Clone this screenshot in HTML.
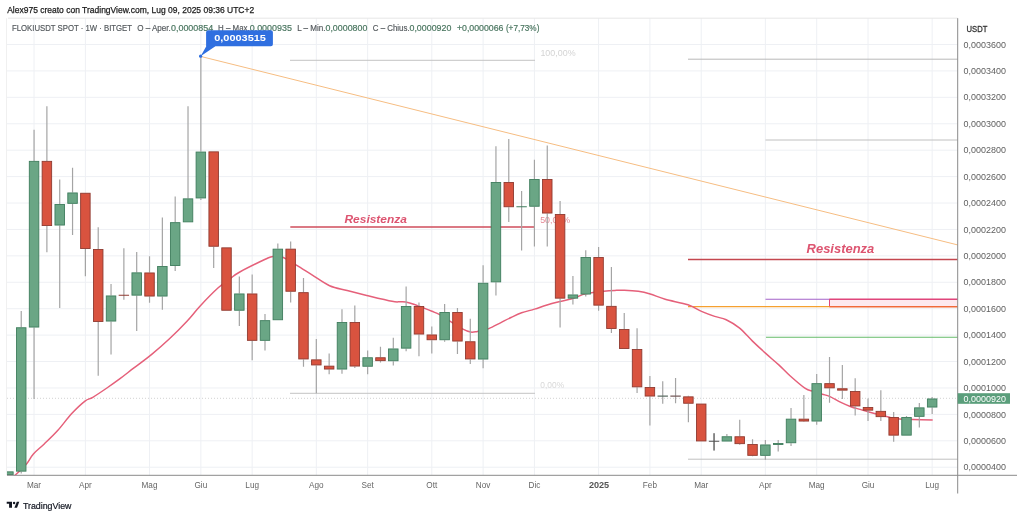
<!DOCTYPE html><html><head><meta charset="utf-8"><title>FLOKIUSDT</title><style>html,body{margin:0;padding:0;background:#fff;width:1024px;height:517px;overflow:hidden}svg{display:block}text{font-family:"Liberation Sans", "DejaVu Sans", sans-serif}</style></head><body>
<svg width="1024" height="517" viewBox="0 0 1024 517">
<rect width="1024" height="517" fill="#fff"/>
<defs><clipPath id="cp"><rect x="7.0" y="18.2" width="950.7" height="457.1"/></clipPath></defs>
<path d="M7.0 44.50H957.7M7.0 70.92H957.7M7.0 97.34H957.7M7.0 123.76H957.7M7.0 150.18H957.7M7.0 176.60H957.7M7.0 203.02H957.7M7.0 229.44H957.7M7.0 255.86H957.7M7.0 282.28H957.7M7.0 308.70H957.7M7.0 335.12H957.7M7.0 361.54H957.7M7.0 387.96H957.7M7.0 414.38H957.7M7.0 440.80H957.7M7.0 467.22H957.7M34.06 18.2V475.3M85.38 18.2V475.3M149.53 18.2V475.3M200.85 18.2V475.3M252.17 18.2V475.3M316.32 18.2V475.3M367.64 18.2V475.3M431.79 18.2V475.3M483.11 18.2V475.3M534.43 18.2V475.3M598.58 18.2V475.3M649.90 18.2V475.3M701.22 18.2V475.3M765.37 18.2V475.3M816.69 18.2V475.3M868.01 18.2V475.3M932.16 18.2V475.3" stroke="#eef0f4" stroke-width="1" fill="none"/>
<g clip-path="url(#cp)">
<path d="M290 60.3H535" stroke="#c4c4c4" stroke-width="1"/>
<path d="M290 393.3H535" stroke="#c4c4c4" stroke-width="1"/>
<path d="M688 59.2H958" stroke="#b8b8b8" stroke-width="1"/>
<path d="M765.5 140H958" stroke="#c0c0c0" stroke-width="1"/>
<path d="M688 459.2H958" stroke="#c0c0c0" stroke-width="1"/>
<path d="M7.0 398.3H957.7" stroke="#c6c6c6" stroke-width="0.8" stroke-dasharray="1 2"/>
<path d="M201 56.5L958 245.0" stroke="#f6bd82" stroke-width="1" fill="none"/>
<path d="M290.3 227H535" stroke="#cf4d5b" stroke-width="1.4"/>
<path d="M688 259.4H958" stroke="#c4474f" stroke-width="1.5"/>
<rect x="829.5" y="299.2" width="130" height="7.6" fill="#fde9ef" stroke="none"/>
<path d="M765.5 299.3H830" stroke="#a362c9" stroke-width="1.1"/>
<path d="M829.5 299.2H958" stroke="#e0457b" stroke-width="1.5"/>
<path d="M829.5 299.2V306.8" stroke="#e0457b" stroke-width="1"/>
<path d="M688 306.6H830" stroke="#f5a030" stroke-width="1.4"/>
<path d="M829.5 306.8H958" stroke="#f06a3a" stroke-width="1.5"/>
<path d="M766 337.2H958" stroke="#66bb6a" stroke-width="1.1"/>
<text x="540.4" y="55.8" font-size="8.6" fill="#d4d4d4" textLength="35.2" lengthAdjust="spacingAndGlyphs">100,00%</text>
<text x="540.2" y="222.6" font-size="8.6" fill="#e58a96" textLength="30.0" lengthAdjust="spacingAndGlyphs">50,00%</text>
<text x="540.3" y="388.0" font-size="8.6" fill="#d8d8d8" textLength="23.8" lengthAdjust="spacingAndGlyphs">0,00%</text>
<path d="M13.90 475.50C14.18 475.38 13.47 476.77 15.60 474.80C17.73 472.83 23.73 467.18 26.70 463.70C29.67 460.22 30.43 457.23 33.40 453.90C36.37 450.57 40.42 447.63 44.50 443.70C48.58 439.77 53.40 435.28 57.90 430.30C62.40 425.32 66.98 418.67 71.50 413.80C76.02 408.93 81.45 403.85 85.00 401.10C88.55 398.35 89.15 399.48 92.80 397.30C96.45 395.12 102.37 391.10 106.90 388.00C111.43 384.90 115.55 382.00 120.00 378.70C124.45 375.40 128.37 372.22 133.60 368.20C138.83 364.18 145.47 359.47 151.40 354.60C157.33 349.73 163.27 344.57 169.20 339.00C175.13 333.43 181.80 326.75 187.00 321.20C192.20 315.65 195.20 311.27 200.40 305.70C205.60 300.13 213.27 292.28 218.20 287.80C223.13 283.32 226.40 281.43 230.00 278.80C233.60 276.17 233.93 275.25 239.80 272.00C245.67 268.75 259.67 261.90 265.20 259.30C270.73 256.70 270.08 256.73 273.00 256.40C275.92 256.07 278.80 255.83 282.70 257.30C286.60 258.77 291.52 262.27 296.40 265.20C301.28 268.13 306.47 271.48 312.00 274.90C317.53 278.32 323.73 283.10 329.60 285.70C335.47 288.30 341.02 288.88 347.20 290.50C353.38 292.12 359.22 293.60 366.70 295.40C374.18 297.20 386.55 300.23 392.10 301.30C397.65 302.37 397.72 301.67 400.00 301.80C402.28 301.93 403.38 301.65 405.80 302.10C408.22 302.55 411.35 303.45 414.50 304.50C417.65 305.55 421.80 307.27 424.70 308.40C427.60 309.53 429.40 310.25 431.90 311.30C434.40 312.35 436.63 313.02 439.70 314.70C442.77 316.38 446.60 319.07 450.30 321.40C454.00 323.73 458.52 326.92 461.90 328.70C465.28 330.48 468.02 331.65 470.60 332.10C473.18 332.55 474.37 331.98 477.40 331.40C480.43 330.82 484.95 330.03 488.80 328.60C492.65 327.17 496.80 324.65 500.50 322.80C504.20 320.95 507.48 319.17 511.00 317.50C514.52 315.83 517.68 314.20 521.60 312.80C525.52 311.40 530.40 310.37 534.50 309.10C538.60 307.83 542.30 306.38 546.20 305.20C550.10 304.02 553.60 303.07 557.90 302.00C562.20 300.93 567.90 300.03 572.00 298.80C576.10 297.57 579.50 295.58 582.50 294.60C585.50 293.62 586.45 293.47 590.00 292.90C593.55 292.33 599.63 291.62 603.80 291.20C607.97 290.78 611.57 290.57 615.00 290.40C618.43 290.23 620.52 290.05 624.40 290.20C628.28 290.35 634.00 290.67 638.30 291.30C642.60 291.93 645.72 292.67 650.20 294.00C654.68 295.33 658.90 297.50 665.20 299.30C671.50 301.10 681.95 302.78 688.00 304.80C694.05 306.82 697.05 309.47 701.50 311.40C705.95 313.33 710.58 315.02 714.70 316.40C718.82 317.78 722.10 317.78 726.20 319.70C730.30 321.62 734.92 324.33 739.30 327.90C743.68 331.47 748.10 336.85 752.50 341.10C756.90 345.35 761.32 349.43 765.70 353.40C770.08 357.37 774.75 361.17 778.80 364.90C782.85 368.63 785.65 371.92 790.00 375.80C794.35 379.68 801.03 385.58 804.90 388.20C808.77 390.82 810.30 390.50 813.20 391.50C816.10 392.50 819.50 393.35 822.30 394.20C825.10 395.05 826.90 395.23 830.00 396.60C833.10 397.97 837.42 400.72 840.90 402.40C844.38 404.08 847.68 405.53 850.90 406.70C854.12 407.87 857.35 408.57 860.20 409.40C863.05 410.23 864.77 410.80 868.00 411.70C871.23 412.60 876.00 413.87 879.60 414.80C883.20 415.73 886.28 416.62 889.60 417.30C892.92 417.98 895.63 418.55 899.50 418.90C903.37 419.25 907.27 419.20 912.80 419.40C918.33 419.60 929.38 419.98 932.70 420.10" fill="none" stroke="#e5607a" stroke-width="1.5" stroke-linejoin="round"/>
<path d="M21.23 311.00V327.30M21.23 471.60V473.50M34.06 129.80V160.90M34.06 327.50V399.00M46.89 106.20V160.90M46.89 226.00V252.30M59.72 179.50V204.00M59.72 225.50V307.90M72.55 167.80V192.50M72.55 203.80V235.00M85.38 249.00V276.20M98.21 227.30V249.00M98.21 321.90V375.70M111.04 283.90V295.50M111.04 321.50V354.40M123.87 248.20V295.30M123.87 295.30V299.70M136.70 252.00V272.40M136.70 295.60V331.00M149.53 256.20V272.50M149.53 296.50V302.70M162.36 217.50V266.00M162.36 296.50V309.70M175.19 196.50V222.20M175.19 266.00V270.90M188.02 106.20V198.40M200.85 56.50V151.60M200.85 198.40V200.00M213.68 246.70V267.90M239.34 276.40V293.50M239.34 310.70V326.00M252.17 274.50V293.50M252.17 340.80V360.20M265.00 314.00V320.20M265.00 340.80V350.50M277.83 243.40V248.70M290.66 241.50V248.70M290.66 291.70V302.60M303.49 278.00V292.20M303.49 359.40V366.70M316.32 339.10V359.40M316.32 365.40V393.30M329.15 353.50V365.70M329.15 369.50V374.30M341.98 309.20V322.10M341.98 369.50V373.80M354.81 305.50V322.10M354.81 366.50V368.00M367.64 350.50V357.30M367.64 366.70V374.30M380.47 346.70V357.30M380.47 361.10V362.40M393.30 337.80V348.50M393.30 361.20V365.40M406.13 286.40V306.10M406.13 348.60V351.30M418.96 302.40V306.10M418.96 334.50V356.20M431.79 326.40V334.50M431.79 340.20V353.50M444.62 303.90V312.00M444.62 340.20V341.80M457.45 308.00V312.00M457.45 341.50V354.00M470.28 318.80V341.30M470.28 359.40V364.00M483.11 265.20V282.80M483.11 359.50V368.20M495.94 146.30V182.00M495.94 282.30V295.60M508.77 138.90V182.00M508.77 207.20V222.10M521.60 191.00V206.70M521.60 206.70V250.40M534.43 159.80V179.00M534.43 206.70V246.40M547.26 145.40V179.00M547.26 213.50V246.40M560.09 201.00V214.00M560.09 298.60V327.60M572.92 276.00V294.50M572.92 298.60V304.50M585.75 250.30V257.10M585.75 294.50V296.40M598.58 247.00V257.10M598.58 305.60V310.80M611.41 267.10V305.90M611.41 328.90V333.00M624.24 313.00V329.10M637.07 328.30V349.00M637.07 387.30V392.90M649.90 375.90V387.10M649.90 396.50V425.50M662.73 381.30V396.10M662.73 396.10V403.80M675.56 378.00V396.10M675.56 396.10V403.30M688.39 395.80V396.40M688.39 403.70V422.30M714.05 433.30V441.30M714.05 441.30V450.50M726.88 434.00V436.30M739.71 419.70V436.30M739.71 444.10V444.80M752.54 439.20V444.10M752.54 455.80V456.30M765.37 440.10V444.50M765.37 455.80V459.80M778.20 440.10V443.10M778.20 444.50V451.40M791.03 408.00V418.70M791.03 443.20V445.90M803.86 394.90V418.70M803.86 421.50V421.90M816.69 374.00V383.20M816.69 421.50V424.70M829.52 357.00V383.20M829.52 388.30V402.80M842.35 364.90V388.30M842.35 390.60V399.10M855.18 378.30V391.10M855.18 406.40V415.50M868.01 398.50V407.00M868.01 410.60V420.90M880.84 390.20V410.90M880.84 417.10V421.00M893.67 412.10V417.10M893.67 435.60V441.80M906.50 415.90V417.10M919.33 402.90V407.40M919.33 416.80V427.60M932.16 397.00V398.50M932.16 407.50V414.00" stroke="#a4a4a4" stroke-width="1.2" fill="none"/>
<rect x="3.65" y="471.85" width="9.50" height="2.70" fill="#6aa685" stroke="#3f7d5d" stroke-width="0.9"/>
<rect x="16.48" y="327.75" width="9.50" height="143.40" fill="#6aa685" stroke="#3f7d5d" stroke-width="0.9"/>
<rect x="29.31" y="161.35" width="9.50" height="165.70" fill="#6aa685" stroke="#3f7d5d" stroke-width="0.9"/>
<rect x="42.14" y="161.35" width="9.50" height="64.20" fill="#d9533f" stroke="#8f3a30" stroke-width="0.9"/>
<rect x="54.97" y="204.45" width="9.50" height="20.60" fill="#6aa685" stroke="#3f7d5d" stroke-width="0.9"/>
<rect x="67.80" y="192.95" width="9.50" height="10.40" fill="#6aa685" stroke="#3f7d5d" stroke-width="0.9"/>
<rect x="80.63" y="193.25" width="9.50" height="55.30" fill="#d9533f" stroke="#8f3a30" stroke-width="0.9"/>
<rect x="93.46" y="249.45" width="9.50" height="72.00" fill="#d9533f" stroke="#8f3a30" stroke-width="0.9"/>
<rect x="106.29" y="295.95" width="9.50" height="25.10" fill="#6aa685" stroke="#3f7d5d" stroke-width="0.9"/>
<path d="M118.67 295.30H129.07" stroke="#8f3a30" stroke-width="1.1" fill="none"/>
<rect x="131.95" y="272.85" width="9.50" height="22.30" fill="#6aa685" stroke="#3f7d5d" stroke-width="0.9"/>
<rect x="144.78" y="272.95" width="9.50" height="23.10" fill="#d9533f" stroke="#8f3a30" stroke-width="0.9"/>
<rect x="157.61" y="266.45" width="9.50" height="29.60" fill="#6aa685" stroke="#3f7d5d" stroke-width="0.9"/>
<rect x="170.44" y="222.65" width="9.50" height="42.90" fill="#6aa685" stroke="#3f7d5d" stroke-width="0.9"/>
<rect x="183.27" y="198.85" width="9.50" height="23.00" fill="#6aa685" stroke="#3f7d5d" stroke-width="0.9"/>
<rect x="196.10" y="152.05" width="9.50" height="45.90" fill="#6aa685" stroke="#3f7d5d" stroke-width="0.9"/>
<rect x="208.93" y="151.85" width="9.50" height="94.40" fill="#d9533f" stroke="#8f3a30" stroke-width="0.9"/>
<rect x="221.76" y="247.85" width="9.50" height="62.40" fill="#d9533f" stroke="#8f3a30" stroke-width="0.9"/>
<rect x="234.59" y="293.95" width="9.50" height="16.30" fill="#6aa685" stroke="#3f7d5d" stroke-width="0.9"/>
<rect x="247.42" y="293.95" width="9.50" height="46.40" fill="#d9533f" stroke="#8f3a30" stroke-width="0.9"/>
<rect x="260.25" y="320.65" width="9.50" height="19.70" fill="#6aa685" stroke="#3f7d5d" stroke-width="0.9"/>
<rect x="273.08" y="249.15" width="9.50" height="70.60" fill="#6aa685" stroke="#3f7d5d" stroke-width="0.9"/>
<rect x="285.91" y="249.15" width="9.50" height="42.10" fill="#d9533f" stroke="#8f3a30" stroke-width="0.9"/>
<rect x="298.74" y="292.65" width="9.50" height="66.30" fill="#d9533f" stroke="#8f3a30" stroke-width="0.9"/>
<rect x="311.57" y="359.85" width="9.50" height="5.10" fill="#d9533f" stroke="#8f3a30" stroke-width="0.9"/>
<rect x="324.40" y="366.15" width="9.50" height="2.90" fill="#d9533f" stroke="#8f3a30" stroke-width="0.9"/>
<rect x="337.23" y="322.55" width="9.50" height="46.50" fill="#6aa685" stroke="#3f7d5d" stroke-width="0.9"/>
<rect x="350.06" y="322.55" width="9.50" height="43.50" fill="#d9533f" stroke="#8f3a30" stroke-width="0.9"/>
<rect x="362.89" y="357.75" width="9.50" height="8.50" fill="#6aa685" stroke="#3f7d5d" stroke-width="0.9"/>
<rect x="375.72" y="357.75" width="9.50" height="2.90" fill="#d9533f" stroke="#8f3a30" stroke-width="0.9"/>
<rect x="388.55" y="348.95" width="9.50" height="11.80" fill="#6aa685" stroke="#3f7d5d" stroke-width="0.9"/>
<rect x="401.38" y="306.55" width="9.50" height="41.60" fill="#6aa685" stroke="#3f7d5d" stroke-width="0.9"/>
<rect x="414.21" y="306.55" width="9.50" height="27.50" fill="#d9533f" stroke="#8f3a30" stroke-width="0.9"/>
<rect x="427.04" y="334.95" width="9.50" height="4.80" fill="#d9533f" stroke="#8f3a30" stroke-width="0.9"/>
<rect x="439.87" y="312.45" width="9.50" height="27.30" fill="#6aa685" stroke="#3f7d5d" stroke-width="0.9"/>
<rect x="452.70" y="312.45" width="9.50" height="28.60" fill="#d9533f" stroke="#8f3a30" stroke-width="0.9"/>
<rect x="465.53" y="341.75" width="9.50" height="17.20" fill="#d9533f" stroke="#8f3a30" stroke-width="0.9"/>
<rect x="478.36" y="283.25" width="9.50" height="75.80" fill="#6aa685" stroke="#3f7d5d" stroke-width="0.9"/>
<rect x="491.19" y="182.45" width="9.50" height="99.40" fill="#6aa685" stroke="#3f7d5d" stroke-width="0.9"/>
<rect x="504.02" y="182.45" width="9.50" height="24.30" fill="#d9533f" stroke="#8f3a30" stroke-width="0.9"/>
<path d="M516.40 206.70H526.80" stroke="#3f7d5d" stroke-width="1.1" fill="none"/>
<rect x="529.68" y="179.45" width="9.50" height="26.80" fill="#6aa685" stroke="#3f7d5d" stroke-width="0.9"/>
<rect x="542.51" y="179.45" width="9.50" height="33.60" fill="#d9533f" stroke="#8f3a30" stroke-width="0.9"/>
<rect x="555.34" y="214.45" width="9.50" height="83.70" fill="#d9533f" stroke="#8f3a30" stroke-width="0.9"/>
<rect x="568.17" y="294.95" width="9.50" height="3.20" fill="#6aa685" stroke="#3f7d5d" stroke-width="0.9"/>
<rect x="581.00" y="257.55" width="9.50" height="36.50" fill="#6aa685" stroke="#3f7d5d" stroke-width="0.9"/>
<rect x="593.83" y="257.55" width="9.50" height="47.60" fill="#d9533f" stroke="#8f3a30" stroke-width="0.9"/>
<rect x="606.66" y="306.35" width="9.50" height="22.10" fill="#d9533f" stroke="#8f3a30" stroke-width="0.9"/>
<rect x="619.49" y="329.55" width="9.50" height="19.00" fill="#d9533f" stroke="#8f3a30" stroke-width="0.9"/>
<rect x="632.32" y="349.45" width="9.50" height="37.40" fill="#d9533f" stroke="#8f3a30" stroke-width="0.9"/>
<rect x="645.15" y="387.55" width="9.50" height="8.50" fill="#d9533f" stroke="#8f3a30" stroke-width="0.9"/>
<path d="M657.53 396.10H667.93" stroke="#5d6e64" stroke-width="1.1" fill="none"/>
<path d="M670.36 396.10H680.76" stroke="#745a58" stroke-width="1.1" fill="none"/>
<rect x="683.64" y="396.85" width="9.50" height="6.40" fill="#d9533f" stroke="#8f3a30" stroke-width="0.9"/>
<rect x="696.47" y="404.05" width="9.50" height="36.90" fill="#d9533f" stroke="#8f3a30" stroke-width="0.9"/>
<path d="M714.05 433.30V450.50" stroke="#5a5a5a" stroke-width="1.1" fill="none"/>
<path d="M708.85 441.30H719.25" stroke="#505050" stroke-width="1.1" fill="none"/>
<rect x="722.13" y="436.75" width="9.50" height="4.30" fill="#6aa685" stroke="#3f7d5d" stroke-width="0.9"/>
<rect x="734.96" y="436.75" width="9.50" height="6.90" fill="#d9533f" stroke="#8f3a30" stroke-width="0.9"/>
<rect x="747.79" y="444.55" width="9.50" height="10.80" fill="#d9533f" stroke="#8f3a30" stroke-width="0.9"/>
<rect x="760.62" y="444.95" width="9.50" height="10.40" fill="#6aa685" stroke="#3f7d5d" stroke-width="0.9"/>
<rect x="773.45" y="443.55" width="9.50" height="0.90" fill="#6aa685" stroke="#3f7d5d" stroke-width="0.9"/>
<rect x="786.28" y="419.15" width="9.50" height="23.60" fill="#6aa685" stroke="#3f7d5d" stroke-width="0.9"/>
<rect x="799.11" y="419.15" width="9.50" height="1.90" fill="#d9533f" stroke="#8f3a30" stroke-width="0.9"/>
<rect x="811.94" y="383.65" width="9.50" height="37.40" fill="#6aa685" stroke="#3f7d5d" stroke-width="0.9"/>
<rect x="824.77" y="383.65" width="9.50" height="4.20" fill="#d9533f" stroke="#8f3a30" stroke-width="0.9"/>
<rect x="837.60" y="388.75" width="9.50" height="1.40" fill="#d9533f" stroke="#8f3a30" stroke-width="0.9"/>
<rect x="850.43" y="391.55" width="9.50" height="14.40" fill="#d9533f" stroke="#8f3a30" stroke-width="0.9"/>
<rect x="863.26" y="407.45" width="9.50" height="2.70" fill="#d9533f" stroke="#8f3a30" stroke-width="0.9"/>
<rect x="876.09" y="411.35" width="9.50" height="5.30" fill="#d9533f" stroke="#8f3a30" stroke-width="0.9"/>
<rect x="888.92" y="417.55" width="9.50" height="17.60" fill="#d9533f" stroke="#8f3a30" stroke-width="0.9"/>
<rect x="901.75" y="417.55" width="9.50" height="17.60" fill="#6aa685" stroke="#3f7d5d" stroke-width="0.9"/>
<rect x="914.58" y="407.85" width="9.50" height="8.50" fill="#6aa685" stroke="#3f7d5d" stroke-width="0.9"/>
<rect x="927.41" y="398.95" width="9.50" height="8.10" fill="#6aa685" stroke="#3f7d5d" stroke-width="0.9"/>
</g>
<path d="M8 18.2H957.7" stroke="#e6e6e6" stroke-width="1"/>
<path d="M6.5 18.2V475.3" stroke="#f0f0f0" stroke-width="1"/>
<path d="M957.7 18.2V493.5" stroke="#8a8a8a" stroke-width="1"/>
<path d="M7.0 475.3H1017" stroke="#8a8a8a" stroke-width="1"/>
<text x="7.2" y="13.35" font-size="9.3" fill="#1a1a1a" stroke="#1a1a1a" stroke-width="0.25" textLength="247" lengthAdjust="spacingAndGlyphs">Alex975 creato con TradingView.com, Lug 09, 2025 09:36 UTC+2</text>
<text x="12.0" y="31.0" font-size="8.6" fill="#555a5e" stroke="#555a5e" stroke-width="0.18" textLength="120.0" lengthAdjust="spacingAndGlyphs">FLOKIUSDT SPOT · 1W · BITGET</text>
<text x="137.2" y="31.0" font-size="8.6" fill="#555a5e" stroke="#555a5e" stroke-width="0.18" textLength="33.6" lengthAdjust="spacingAndGlyphs">O – Aper.</text>
<text x="171.0" y="31.0" font-size="8.6" fill="#4a7660" stroke="#4a7660" stroke-width="0.18" textLength="42.2" lengthAdjust="spacingAndGlyphs">0,0000854</text>
<text x="218.1" y="31.0" font-size="8.6" fill="#555a5e" stroke="#555a5e" stroke-width="0.18" textLength="31.6" lengthAdjust="spacingAndGlyphs">H – Max.</text>
<text x="249.7" y="31.0" font-size="8.6" fill="#4a7660" stroke="#4a7660" stroke-width="0.18" textLength="42.2" lengthAdjust="spacingAndGlyphs">0,0000935</text>
<text x="297.2" y="31.0" font-size="8.6" fill="#555a5e" stroke="#555a5e" stroke-width="0.18" textLength="28.4" lengthAdjust="spacingAndGlyphs">L – Min.</text>
<text x="325.5" y="31.0" font-size="8.6" fill="#4a7660" stroke="#4a7660" stroke-width="0.18" textLength="41.8" lengthAdjust="spacingAndGlyphs">0,0000800</text>
<text x="372.8" y="31.0" font-size="8.6" fill="#555a5e" stroke="#555a5e" stroke-width="0.18" textLength="36.8" lengthAdjust="spacingAndGlyphs">C – Chius.</text>
<text x="409.5" y="31.0" font-size="8.6" fill="#4a7660" stroke="#4a7660" stroke-width="0.18" textLength="41.8" lengthAdjust="spacingAndGlyphs">0,0000920</text>
<text x="456.9" y="31.0" font-size="8.6" fill="#4a7660" stroke="#4a7660" stroke-width="0.18" textLength="46.6" lengthAdjust="spacingAndGlyphs">+0,0000066</text>
<text x="505.9" y="31.0" font-size="8.6" fill="#4a7660" stroke="#4a7660" stroke-width="0.18" textLength="33.5" lengthAdjust="spacingAndGlyphs">(+7,73%)</text>
<text x="966.6" y="31.8" font-size="8.6" fill="#333" stroke="#333" stroke-width="0.3" textLength="20.7" lengthAdjust="spacingAndGlyphs">USDT</text>
<text x="963.6" y="47.6" font-size="9.4" fill="#606060" textLength="42.3" lengthAdjust="spacingAndGlyphs">0,0003600</text>
<text x="963.6" y="74.0" font-size="9.4" fill="#606060" textLength="42.3" lengthAdjust="spacingAndGlyphs">0,0003400</text>
<text x="963.6" y="100.4" font-size="9.4" fill="#606060" textLength="42.3" lengthAdjust="spacingAndGlyphs">0,0003200</text>
<text x="963.6" y="126.9" font-size="9.4" fill="#606060" textLength="42.3" lengthAdjust="spacingAndGlyphs">0,0003000</text>
<text x="963.6" y="153.3" font-size="9.4" fill="#606060" textLength="42.3" lengthAdjust="spacingAndGlyphs">0,0002800</text>
<text x="963.6" y="179.7" font-size="9.4" fill="#606060" textLength="42.3" lengthAdjust="spacingAndGlyphs">0,0002600</text>
<text x="963.6" y="206.1" font-size="9.4" fill="#606060" textLength="42.3" lengthAdjust="spacingAndGlyphs">0,0002400</text>
<text x="963.6" y="232.5" font-size="9.4" fill="#606060" textLength="42.3" lengthAdjust="spacingAndGlyphs">0,0002200</text>
<text x="963.6" y="259.0" font-size="9.4" fill="#606060" textLength="42.3" lengthAdjust="spacingAndGlyphs">0,0002000</text>
<text x="963.6" y="285.4" font-size="9.4" fill="#606060" textLength="42.3" lengthAdjust="spacingAndGlyphs">0,0001800</text>
<text x="963.6" y="311.8" font-size="9.4" fill="#606060" textLength="42.3" lengthAdjust="spacingAndGlyphs">0,0001600</text>
<text x="963.6" y="338.2" font-size="9.4" fill="#606060" textLength="42.3" lengthAdjust="spacingAndGlyphs">0,0001400</text>
<text x="963.6" y="364.6" font-size="9.4" fill="#606060" textLength="42.3" lengthAdjust="spacingAndGlyphs">0,0001200</text>
<text x="963.6" y="391.1" font-size="9.4" fill="#606060" textLength="42.3" lengthAdjust="spacingAndGlyphs">0,0001000</text>
<text x="963.6" y="417.5" font-size="9.4" fill="#606060" textLength="42.3" lengthAdjust="spacingAndGlyphs">0,0000800</text>
<text x="963.6" y="443.9" font-size="9.4" fill="#606060" textLength="42.3" lengthAdjust="spacingAndGlyphs">0,0000600</text>
<text x="963.6" y="470.3" font-size="9.4" fill="#606060" textLength="42.3" lengthAdjust="spacingAndGlyphs">0,0000400</text>
<rect x="957.7" y="393.2" width="52.3" height="10.6" fill="#5a9e7b"/>
<text x="963.6" y="401.9" font-size="9.4" fill="#fff" textLength="42.3" lengthAdjust="spacingAndGlyphs">0,0000920</text>
<text x="34.06" y="487.7" font-size="8.2" fill="#666" text-anchor="middle">Mar</text>
<text x="85.38" y="487.7" font-size="8.2" fill="#666" text-anchor="middle">Apr</text>
<text x="149.53" y="487.7" font-size="8.2" fill="#666" text-anchor="middle">Mag</text>
<text x="200.85" y="487.7" font-size="8.2" fill="#666" text-anchor="middle">Giu</text>
<text x="252.17" y="487.7" font-size="8.2" fill="#666" text-anchor="middle">Lug</text>
<text x="316.32" y="487.7" font-size="8.2" fill="#666" text-anchor="middle">Ago</text>
<text x="367.64" y="487.7" font-size="8.2" fill="#666" text-anchor="middle">Set</text>
<text x="431.79" y="487.7" font-size="8.2" fill="#666" text-anchor="middle">Ott</text>
<text x="483.11" y="487.7" font-size="8.2" fill="#666" text-anchor="middle">Nov</text>
<text x="534.43" y="487.7" font-size="8.2" fill="#666" text-anchor="middle">Dic</text>
<text x="588.9" y="487.8" font-size="8.6" font-weight="bold" fill="#555" textLength="20.3" lengthAdjust="spacingAndGlyphs">2025</text>
<text x="649.90" y="487.7" font-size="8.2" fill="#666" text-anchor="middle">Feb</text>
<text x="701.22" y="487.7" font-size="8.2" fill="#666" text-anchor="middle">Mar</text>
<text x="765.37" y="487.7" font-size="8.2" fill="#666" text-anchor="middle">Apr</text>
<text x="816.69" y="487.7" font-size="8.2" fill="#666" text-anchor="middle">Mag</text>
<text x="868.01" y="487.7" font-size="8.2" fill="#666" text-anchor="middle">Giu</text>
<text x="932.16" y="487.7" font-size="8.2" fill="#666" text-anchor="middle">Lug</text>
<text x="344.5" y="222.8" font-size="10.7" font-weight="bold" font-style="italic" fill="#dd5470" textLength="62.4" lengthAdjust="spacingAndGlyphs">Resistenza</text>
<text x="806.6" y="252.6" font-size="12" font-weight="bold" font-style="italic" fill="#dd5470" textLength="67.7" lengthAdjust="spacingAndGlyphs">Resistenza</text>
<path d="M206.1 32.2Q206.1 30.2 208.1 30.2H270.9Q272.9 30.2 272.9 32.2V44.3Q272.9 46.3 270.9 46.3H215.4L200.6 56.2L206.3 46.3H206.1Z" fill="#2f6fe0"/>
<circle cx="200.6" cy="56.2" r="1.6" fill="#2f6fe0"/>
<text x="214.2" y="41.1" font-size="9.2" font-weight="bold" fill="#fff" textLength="51.7" lengthAdjust="spacingAndGlyphs">0,0003515</text>
<g fill="#131722"><path d="M6.7 501.8H12.0V507.7H9.1V503.8H6.7Z"/><circle cx="14.1" cy="503.0" r="1.2"/><path d="M16.8 501.8H19.3L17.0 507.7H14.4Z"/></g>
<text x="22.9" y="508.7" font-size="9.0" fill="#131722" stroke="#131722" stroke-width="0.2" textLength="48.6" lengthAdjust="spacingAndGlyphs">TradingView</text>
</svg></body></html>
